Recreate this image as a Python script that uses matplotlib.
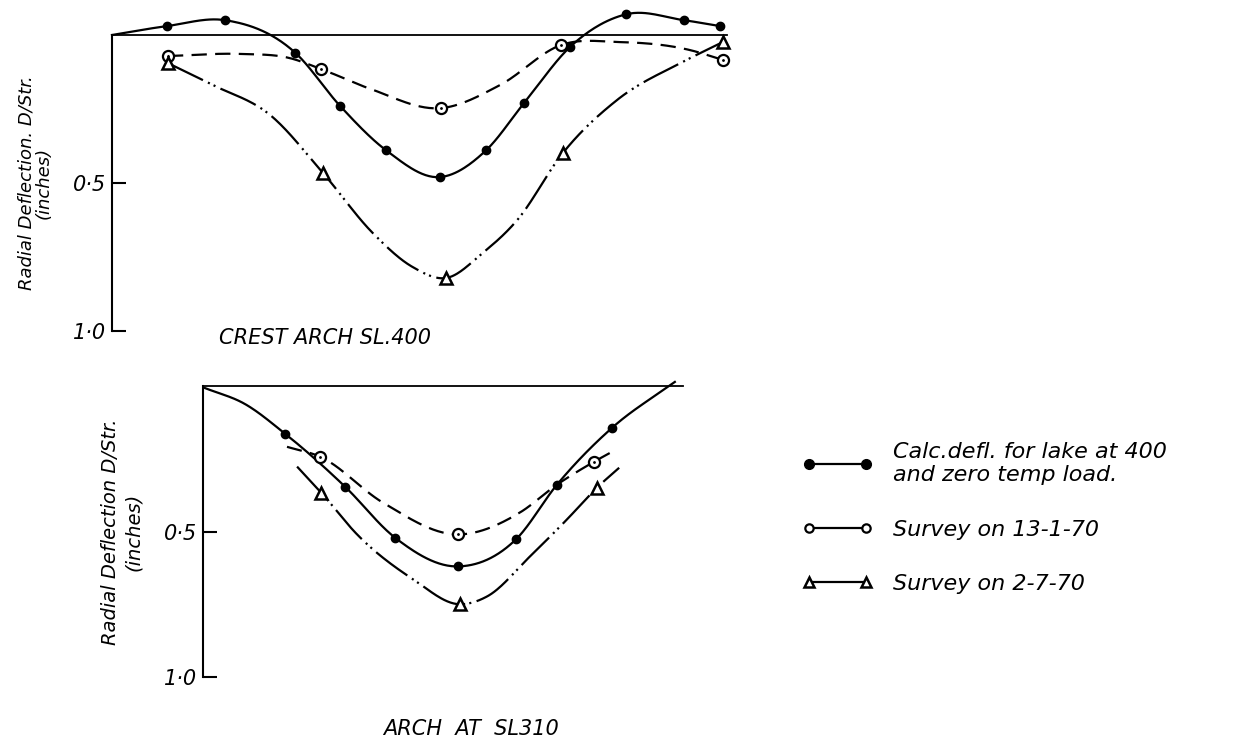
import numpy as np
import matplotlib.pyplot as plt
from matplotlib.lines import Line2D

plt.rcParams['font.family'] = 'DejaVu Sans'
plt.rcParams['font.style'] = 'italic'
plt.rcParams['lines.scale_dashes'] = False

W, H = 1242, 744

# ---- crest arch SL 400  (x: position along arch, % ; y: radial deflection, inches)
crest_calc_x = [0, 8.9, 18.4, 29.8, 37.1, 44.6, 53.3, 60.8, 67.0, 74.5, 83.6, 93.0, 98.9]
crest_calc_y = [0.00, -0.03, -0.05, 0.06, 0.24, 0.39, 0.48, 0.39, 0.23, 0.04, -0.07, -0.05, -0.03]
crest_calc_pts = [1, 2, 3, 4, 5, 6, 7, 8, 9, 10, 11, 12]

crest_jan_x = [9.1, 20.8, 28.9, 34.0, 42.0, 53.5, 63.1, 73.0, 82.6, 94.0, 99.3]
crest_jan_y = [0.071, 0.064, 0.078, 0.115, 0.182, 0.247, 0.169, 0.034, 0.024, 0.051, 0.084]
crest_jan_pts = [0, 3, 5, 7, 10]

crest_jul_x = [9.1, 16.4, 25.7, 34.3, 42.4, 48.9, 54.3, 60.3, 65.9, 73.3, 82.1, 92.8, 99.3]
crest_jul_y = [0.095, 0.169, 0.270, 0.466, 0.669, 0.784, 0.821, 0.736, 0.625, 0.399, 0.220, 0.091, 0.024]
crest_jul_pts = [0, 3, 6, 9, 12]

# ---- arch at SL 310
sl310_calc_x = [0.4, 8.75, 17.1, 29.6, 40.0, 53.1, 65.2, 73.75, 85.2, 98.3]
sl310_calc_y = [0.007, 0.062, 0.164, 0.346, 0.521, 0.620, 0.527, 0.339, 0.144, -0.014]
sl310_calc_pts = [2, 3, 4, 5, 6, 7, 8]

sl310_jan_x = [17.5, 24.4, 37.5, 53.1, 66.0, 73.75, 81.5, 86.0]
sl310_jan_y = [0.209, 0.243, 0.401, 0.510, 0.435, 0.339, 0.260, 0.219]
sl310_jan_pts = [1, 3, 6]

sl310_jul_x = [19.6, 24.6, 32.1, 43.75, 53.5, 59.2, 68.1, 75.8, 82.1, 86.7]
sl310_jul_y = [0.277, 0.366, 0.510, 0.664, 0.750, 0.723, 0.586, 0.459, 0.349, 0.281]
sl310_jul_pts = [1, 4, 8]

y_ticks = [0.5, 1.0]
y_ticklabels = ['0·5', '1·0']
legend_labels = ['Calc.defl. for lake at 400\nand zero temp load.',
                 'Survey on 13-1-70',
                 'Survey on 2-7-70']


def smooth(x, y, n=30):
    x = np.asarray(x, float)
    y = np.asarray(y, float)
    m = np.gradient(y, x)
    xs, ys = [], []
    t = np.linspace(0, 1, n, endpoint=False)
    for i in range(len(x) - 1):
        h = x[i + 1] - x[i]
        h00 = 2 * t**3 - 3 * t**2 + 1
        h10 = t**3 - 2 * t**2 + t
        h01 = -2 * t**3 + 3 * t**2
        h11 = t**3 - t**2
        xs.append(x[i] + t * h)
        ys.append(h00 * y[i] + h10 * h * m[i] + h01 * y[i + 1] + h11 * h * m[i + 1])
    xs.append([x[-1]])
    ys.append([y[-1]])
    return np.concatenate(xs), np.concatenate(ys)


fig = plt.figure(figsize=(W / 100, H / 100), dpi=100)


def px_axes(left, right, top, bottom):
    return fig.add_axes([left / W, 1 - bottom / H, (right - left) / W, (bottom - top) / H])


def draw_series(ax, x, y, pts, kind):
    sx, sy = smooth(x, y)
    mx = [x[i] for i in pts]
    my = [y[i] for i in pts]
    if kind == 'calc':
        ax.plot(sx, sy, color='k', lw=1.6, clip_on=False)
        ax.plot(mx, my, 'o', color='k', ms=6, clip_on=False)
    elif kind == 'jan':
        ax.plot(sx, sy, color='k', lw=1.6, dashes=(11, 6), clip_on=False)
        ax.plot(mx, my, 'o', mfc='white', mec='k', mew=1.6, ms=8, clip_on=False)
        ax.plot(mx, my, '.', color='k', ms=2, clip_on=False)
    else:
        ax.plot(sx, sy, color='k', lw=1.6, dashes=(28, 4, 1.5, 3, 1.5, 4), clip_on=False)
        ax.plot(mx, my, '^', mfc='white', mec='k', mew=1.8, ms=8, clip_on=False)


def style(ax, ylabel, fsize, lspace, labelpad):
    ax.set_xlim(0, 100)
    ax.set_ylim(1.0, 0)
    for s in ['top', 'right', 'bottom']:
        ax.spines[s].set_visible(False)
    ax.spines['left'].set_linewidth(1.5)
    ax.axhline(0, color='k', lw=1.3, clip_on=False)
    ax.set_xticks([])
    ax.set_yticks(y_ticks)
    ax.set_yticklabels(y_ticklabels)
    ax.tick_params(axis='y', direction='in', length=10, width=1.5, labelsize=15, pad=4)
    ax.set_ylabel(ylabel, fontsize=fsize, labelpad=labelpad, linespacing=lspace)
    ax.patch.set_alpha(0)


ax1 = px_axes(112, 727, 35, 331)
style(ax1, 'Radial Deflection. D/Str.\n(inches)', 13, 0.9, 15)
draw_series(ax1, crest_calc_x, crest_calc_y, crest_calc_pts, 'calc')
draw_series(ax1, crest_jan_x, crest_jan_y, crest_jan_pts, 'jan')
draw_series(ax1, crest_jul_x, crest_jul_y, crest_jul_pts, 'jul')

ax2 = px_axes(203, 683, 386, 677)
style(ax2, 'Radial Deflection D/Str.\n(inches)', 14, 1.3, 15)
draw_series(ax2, sl310_calc_x, sl310_calc_y, sl310_calc_pts, 'calc')
draw_series(ax2, sl310_jan_x, sl310_jan_y, sl310_jan_pts, 'jan')
draw_series(ax2, sl310_jul_x, sl310_jul_y, sl310_jul_pts, 'jul')

fig.text(325 / W, 1 - 338 / H, 'CREST ARCH SL.400', ha='center', va='center', fontsize=15)
fig.text(471 / W, 1 - 729 / H, 'ARCH  AT  SL310', ha='center', va='center', fontsize=15)

handles = [
    Line2D([], [], color='k', lw=1.6, marker='o', ms=7),
    Line2D([], [], color='k', lw=1.6, marker='o', ms=6, mfc='white', mew=1.6),
    Line2D([], [], color='k', lw=1.6, marker='^', ms=7, mfc='white', mew=1.8),
]
fig.legend(handles, legend_labels, loc='upper left', bbox_to_anchor=(802 / W, 1 - 442 / H),
           frameon=False, fontsize=16, handlelength=3.2, handletextpad=0.9,
           labelspacing=1.55, numpoints=2, borderaxespad=0, borderpad=0)

fig.savefig('out.png', dpi=100)
